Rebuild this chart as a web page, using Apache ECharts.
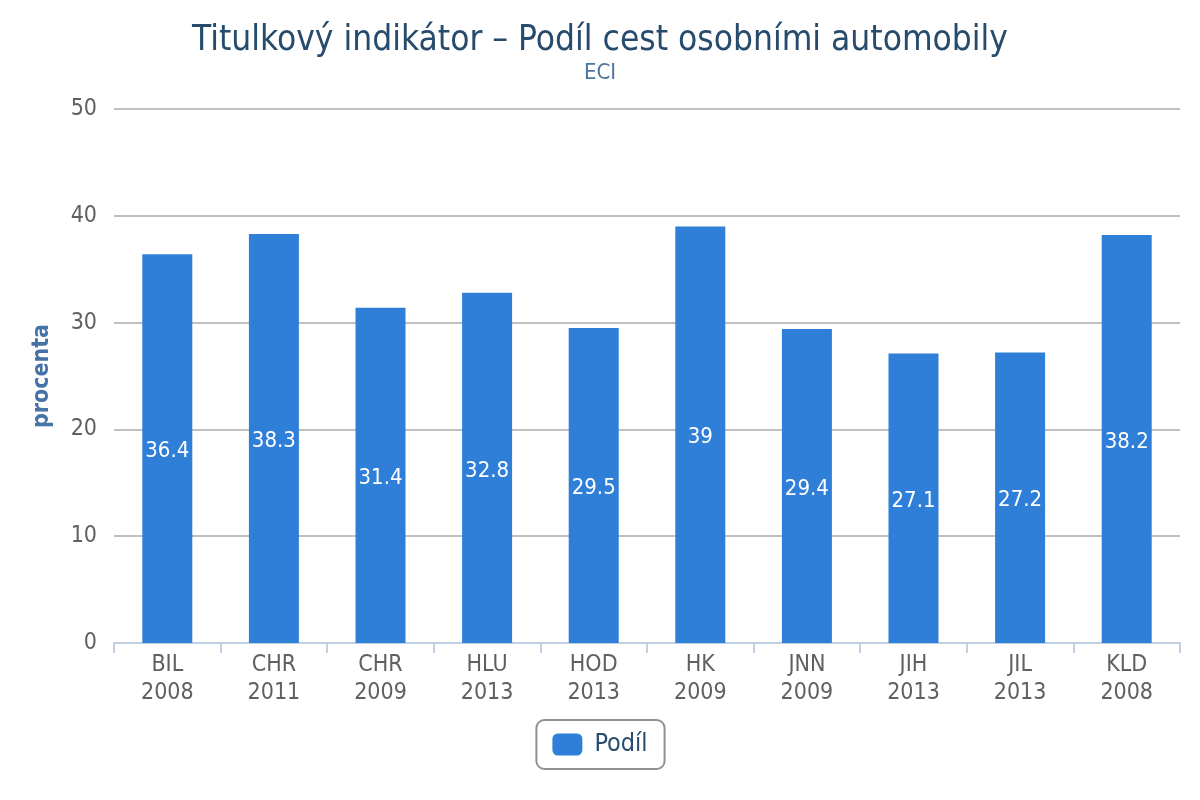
<!DOCTYPE html>
<html><head><meta charset="utf-8">
<script src="https://cdn.jsdelivr.net/npm/echarts@6/dist/echarts.min.js"></script>
<style>html,body{margin:0;padding:0;background:#fff}#c{width:1200px;height:800px}</style>
</head><body><div id="c"></div>
<script>
const regions = ['BIL','CHR','CHR','HLU','HOD','HK','JNN','JIH','JIL','KLD'];
const years = ['2008','2011','2009','2013','2013','2009','2009','2013','2013','2008'];
const values = [36.4, 38.3, 31.4, 32.8, 29.5, 39, 29.4, 27.1, 27.2, 38.2];
const yTicks = [0, 10, 20, 30, 40, 50];
const categories = regions.map((r, i) => r + '\n' + years[i]);
const font = 'DejaVu Sans Condensed';
const chart = echarts.init(document.getElementById('c'));
chart.setOption({
  animation: false,
  textStyle: { fontFamily: font },
  title: {
    text: 'Titulkový indikátor – Podíl cest osobními automobily',
    subtext: 'ECI',
    left: 'center', top: 18,
    itemGap: 4,
    textStyle: { fontFamily: font, fontSize: 35, fontWeight: 'normal', color: '#274b6d' },
    subtextStyle: { fontFamily: font, fontSize: 22, color: '#4d759e' }
  },
  legend: {
    bottom: 31, left: 'center',
    data: ['Podíl'],
    itemWidth: 30, itemHeight: 22, itemGap: 10,
    padding: [12, 17, 12, 16],
    borderColor: '#909090', borderWidth: 2, borderRadius: 8,
    icon: 'roundRect',
    textStyle: { fontFamily: font, fontSize: 25, color: '#274b6d', padding: [0, 0, 0, 7] }
  },
  grid: { left: 114, right: 20, top: 109, bottom: 157, containLabel: false },
  xAxis: {
    type: 'category', data: categories,
    axisLine: { lineStyle: { color: '#c0d0e0', width: 2 } },
    axisTick: { show: true, length: 10, lineStyle: { color: '#c0d0e0', width: 2 } },
    axisLabel: { fontFamily: font, fontSize: 23, color: '#606060', lineHeight: 28, margin: 8 }
  },
  yAxis: {
    type: 'value', min: yTicks[0], max: yTicks[yTicks.length - 1], interval: 10,
    name: 'procenta', nameLocation: 'middle', nameGap: 60,
    nameTextStyle: { fontFamily: font, fontSize: 23, fontWeight: 'bold', color: '#4572a7' },
    axisLine: { show: false }, axisTick: { show: false },
    axisLabel: { fontFamily: font, fontSize: 23, color: '#606060', margin: 17 },
    splitLine: { lineStyle: { color: '#c0c0c0', width: 2 } }
  },
  series: [{
    name: 'Podíl', type: 'bar', data: values, barWidth: 50,
    itemStyle: { color: '#2f7ed8' },
    label: { show: true, position: 'inside', color: '#fff', fontFamily: font, fontSize: 22, offset: [0, 3] }
  }]
});
</script></body></html>
